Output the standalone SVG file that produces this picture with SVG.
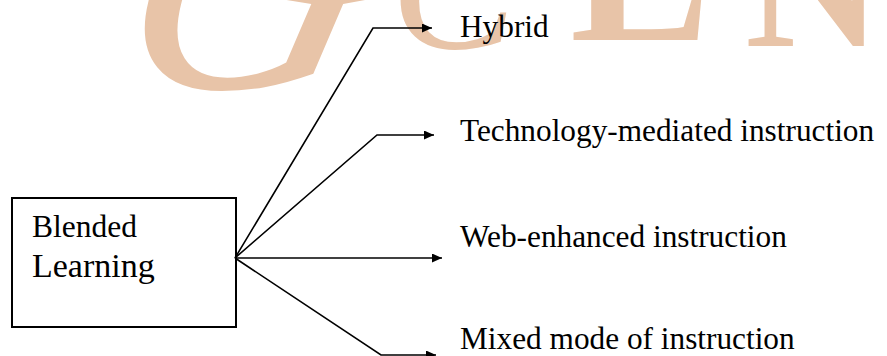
<svg xmlns="http://www.w3.org/2000/svg" width="887" height="356" viewBox="0 0 887 356">
<style>
.wm{fill:#E8C4A8;font-family:"Liberation Serif",serif}
.lbl{font-family:"Liberation Serif","Times New Roman",serif;font-size:31.3px;fill:#000}
.box{fill:#fff;stroke:#000;stroke-width:2}
.conn{fill:none;stroke:#000;stroke-width:1.6}
</style>
<defs>
<marker id="arr" markerUnits="userSpaceOnUse" markerWidth="12" markerHeight="10" refX="10" refY="4.5" orient="auto">
<path d="M0,0 L10,4.5 L0,9 Z" fill="#000"/>
</marker>
</defs>
<rect width="887" height="356" fill="#fff"/>
<g id="watermark">
<text class="wm" x="130" y="88" font-size="340" font-style="italic" transform="skewX(-14)">G</text>
<text class="wm" x="390" y="48" font-size="190" font-style="italic">C</text>
<text class="wm" x="570" y="40" font-size="210" font-weight="bold">L</text>
<text class="wm" x="745" y="46" font-size="190" font-weight="bold">N</text>
</g>
<g id="blended">
<rect class="box" x="12" y="198" width="224" height="129"/>
<text class="lbl" x="32" y="237" style="font-size:31.5px">Blended</text>
<text class="lbl" x="32" y="277" style="font-size:34px">Learning</text>
</g>
<g id="connectors">
<polyline class="conn" points="235,258 373,28 432,28" marker-end="url(#arr)"/>
<polyline class="conn" points="235,258 377,135 434,135" marker-end="url(#arr)"/>
<polyline class="conn" points="235,258 442,258" marker-end="url(#arr)"/>
<polyline class="conn" points="235,258 381,355 436,355" marker-end="url(#arr)"/>
</g>
<g id="hybrid"><text class="lbl" x="460" y="37">Hybrid</text></g>
<g id="technology"><text class="lbl" x="460" y="141">Technology-mediated instruction</text></g>
<g id="web"><text class="lbl" x="460" y="247">Web-enhanced instruction</text></g>
<g id="mixed"><text class="lbl" x="460" y="349">Mixed mode of instruction</text></g>
</svg>
